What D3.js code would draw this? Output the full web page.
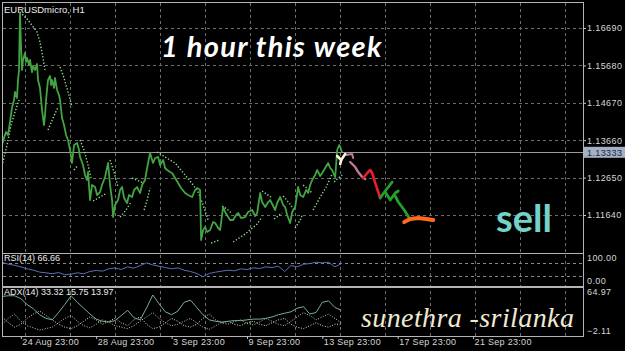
<!DOCTYPE html>
<html>
<head>
<meta charset="utf-8">
<script src="https://cdn.jsdelivr.net/npm/d3@7"></script>
<style>
  html, body { margin: 0; padding: 0; background: #000; }
  svg { display: block; }
</style>
</head>
<body>
<div id="chart"></div>
<script>
// ---- data (x = hours from first bar, y = price) ----
var priceH1 = [
  [0,1.13530],[2.5,1.13719],[5.1,1.13881],[7.6,1.13800],[10.2,1.14151],[12.7,1.14530],[15.3,1.14746],
  [16.6,1.14962],[19.1,1.14800],[20.4,1.15286],[21.7,1.15556],[22.9,1.17095],[24.2,1.16231],[25.5,1.15556],
  [26.8,1.15826],[29.3,1.16015],[30.6,1.15772],[31.9,1.15880],[34.4,1.15691],[35.7,1.15826],[38.2,1.15502],
  [39.5,1.15664],[42.1,1.15556],[44.6,1.15718],[45.9,1.15286],[48.4,1.15070],[51.0,1.14475],[53.5,1.14070],
  [54.8,1.14340],[56.1,1.14746],[58.6,1.15286],[61.2,1.15394],[62.4,1.15151],[63.7,1.15286],[66.3,1.15070],
  [67.5,1.15340],[70.1,1.15016],[72.6,1.14881],[73.9,1.14746],[76.5,1.14259],[79.0,1.14070],[81.6,1.13800],
  [84.1,1.13665],[86.7,1.13395],[89.2,1.13044],[91.8,1.13530],[95.6,1.13584],[98.1,1.13395],[99.4,1.13206],
  [103.2,1.12990],[105.8,1.12720],[108.3,1.12585],[109.6,1.12801],[112.1,1.12045],[114.7,1.12450],
  [118.5,1.12396],[121.1,1.12180],[124.9,1.12261],[127.4,1.12450],[131.3,1.12666],[135.1,1.13044],
  [137.6,1.12450],[140.2,1.12045],[141.5,1.11586],[144.0,1.11910],[147.8,1.12045],[150.4,1.12315],
  [152.9,1.12396],[155.5,1.12099],[159.3,1.11964],[161.8,1.12180],[165.7,1.12126],[168.2,1.12315],
  [172.0,1.12396],[175.9,1.12234],[178.4,1.12450],[182.2,1.12585],[184.8,1.12909],[188.6,1.13314],
  [191.2,1.13125],[192.4,1.13044],[195.0,1.13179],[198.8,1.13206],[201.4,1.12990],[205.2,1.13125],
  [207.7,1.12909],[210.3,1.12855],[214.1,1.12801],[216.6,1.12774],[220.5,1.12639],[224.3,1.12504],
  [228.1,1.12369],[233.2,1.12234],[237.0,1.12180],[242.1,1.12126],[246.0,1.12315],[248.5,1.12369],
  [252.3,1.12315],[253.6,1.10965],[256.2,1.11235],[258.7,1.11316],[261.3,1.11181],[265.1,1.11235],
  [268.9,1.11451],[271.5,1.11424],[275.3,1.11289],[277.8,1.11235],[281.6,1.11856],[284.2,1.11721],
  [288.0,1.11586],[290.6,1.11505],[294.4,1.11505],[298.2,1.11640],[300.8,1.11694],[304.6,1.11559],
  [309.7,1.11586],[313.5,1.11721],[318.6,1.11775],[322.4,1.11613],[325.0,1.11694],[328.8,1.12234],
  [331.3,1.11991],[335.2,1.11856],[339.0,1.11991],[341.5,1.12045],[345.4,1.11883],[347.9,1.11775],
  [350.5,1.11964],[354.3,1.12126],[358.1,1.11910],[360.6,1.11856],[363.2,1.11640],[367.0,1.11424],
  [369.6,1.11721],[373.4,1.11856],[377.2,1.12396],[379.8,1.12180],[383.6,1.12126],[387.4,1.12315],
  [390.0,1.12234],[392.5,1.12450],[395.1,1.12585],[398.9,1.12720],[401.4,1.12855],[405.3,1.12693],
  [407.8,1.12774],[411.6,1.12909],[415.5,1.13044],[418.0,1.12909],[420.5,1.12855],[423.1,1.12720],
  [424.4,1.12666],[426.9,1.13395],[429.5,1.13530],[430.8,1.13476],[433.0,1.13333]
];

// parabolic SAR, one array per run of dots
var sarRuns = [
  [[0,1.12963],[6.4,1.13530],[11.5,1.14070],[16.6,1.14421],[21.7,1.14746]],
  [[22.9,1.17122],[33.1,1.16906],[44.6,1.16582],[48.4,1.16312],[52.2,1.15880],[54.8,1.15556]],
  [[58.6,1.13936],[65.0,1.14259],[71.4,1.14557]],
  [[73.9,1.15637],[79.0,1.15340],[84.1,1.14962],[89.2,1.14557]],
  [[91.8,1.12855],[96.9,1.12990]],
  [[99.4,1.13665],[104.5,1.13395],[109.6,1.12990],[113.4,1.12639]],
  [[116.0,1.12018],[124.9,1.12126],[133.8,1.12234]],
  [[137.6,1.13125],[142.7,1.12801],[147.8,1.12396]],
  [[150.4,1.11586],[158.0,1.11775],[164.4,1.11991]],
  [[165.7,1.12639],[179.7,1.12504]],
  [[181.0,1.11775],[184.8,1.12045],[188.6,1.12369]],
  [[197.5,1.13341],[207.7,1.13206],[220.5,1.13044],[233.2,1.12720],[243.4,1.12450],[249.8,1.12261],[256.2,1.11910],[262.5,1.11505]],
  [[266.4,1.10884],[276.6,1.10965]],
  [[280.3,1.11883],[286.7,1.11802],[293.1,1.11667]],
  [[294.4,1.10911],[309.7,1.11127],[325.0,1.11397],[330.1,1.11559]],
  [[331.3,1.12288],[344.1,1.12099]],
  [[346.6,1.11532],[356.8,1.11694]],
  [[358.1,1.12153],[365.8,1.11964],[372.1,1.11775]],
  [[373.4,1.11289],[379.8,1.11505],[382.4,1.11640]],
  [[383.6,1.12450],[395.1,1.12234]],
  [[396.3,1.11775],[405.3,1.12126],[412.9,1.12396],[420.5,1.12747]],
  [[423.1,1.12531],[428.2,1.12639],[433.3,1.12720]]
];

// hand drawn marks on the chart
var whiteMark  = [[426.9,1.13233],[432.0,1.13125],[437.1,1.13287]];
var whiteStem  = [[432.0,1.13125],[430.8,1.13017]];
var pinkMark1  = [[437.1,1.13260],[446.0,1.13287],[447.3,1.13179]];
var pinkMark2  = [[443.5,1.13071],[449.9,1.12936],[453.7,1.12801],[458.8,1.12666],[462.6,1.12612]];
var redMark    = [[460.0,1.12639],[465.2,1.12774],[469.0,1.12855],[471.5,1.12774],[475.4,1.12504],[481.7,1.12099]];
var greenMark1 = [[481.7,1.12099],[488.1,1.12288],[497.0,1.12531]];
var greenMark2 = [[488.1,1.12261],[494.5,1.12045],[500.8,1.12234],[504.7,1.12288]];
var greenMark3 = [[500.8,1.12153],[504.7,1.11991],[512.3,1.11775],[518.7,1.11559]];
var orangeMark = [[512.3,1.11451],[520.0,1.11532],[530.2,1.11559],[540.4,1.11532],[549.3,1.11505]];

var lastPrice = 1.13333;
var priceTicks = [1.16690, 1.15680, 1.14670, 1.13660, 1.12650, 1.11640];
var dateTicks  = [24, 120, 216, 312, 408, 504, 600];
var dateLabels = ["24 Aug 23:00","28 Aug 23:00","3 Sep 23:00","9 Sep 23:00","13 Sep 23:00","17 Sep 23:00","21 Sep 23:00"];

// indicators sampled every 8 hours
var rsiStep = 8;
var rsi14 = [72,66,63,58,52,48,42,40,37,41,34,36,40,37,44,47,45,52,55,50,58,54,62,70,64,60,56,52,
             55,48,44,38,28,38,42,45,48,46,52,50,55,53,58,56,60,44,62,58,66,68,72,70,72,58,67];
var adxMain = [52,53,53,49,41,35,27,22,20,30,41,53,44,36,28,21,18,17,19,26,33,23,20,36,54,42,31,27,
               32,44,47,37,27,20,18,17,18,19,19,20,21,21,22,24,27,29,31,36,38,28,30,44,46,37,33];
var plusDI  = [14,22,28,18,12,9,6,8,10,16,22,26,18,12,9,14,20,17,12,10,8,12,18,24,30,22,16,12,
               14,18,22,16,10,7,12,16,14,18,20,15,13,17,22,18,14,12,18,24,30,26,20,24,28,22,16];
var minusDI = [24,16,10,14,22,28,32,26,20,14,10,8,12,18,24,20,14,18,22,16,12,20,24,14,8,10,16,22,
               18,12,10,14,22,28,20,16,18,14,12,16,18,14,12,16,20,22,14,10,8,12,16,12,10,14,14];

// ---- drawing ----
var W = 625, H = 351;
var svg = d3.select("#chart").append("svg")
    .attr("width", W).attr("height", H)
    .style("font-family", "'Liberation Sans', Arial, sans-serif");

svg.append("rect").attr("width", W).attr("height", H).attr("fill", "#000");

var x = d3.scaleLinear().domain([0, 740]).range([2, 583]);
var y = d3.scaleLinear().domain([1.10614, 1.17392]).range([253, 2]);
var yRsi = d3.scaleLinear().domain([0, 100]).range([286, 253]);
var yAdx = d3.scaleLinear().domain([-2.11, 64.97]).range([336, 287]);

var gridCol = "#6c6c6c";

// vertical grid (every 45px, like the terminal)
svg.append("g").selectAll("line")
  .data(d3.range(25.5, 583, 45))
  .enter().append("line")
    .attr("x1", function(d) { return d; }).attr("x2", function(d) { return d; })
    .attr("y1", 3).attr("y2", 336)
    .attr("stroke", gridCol).attr("stroke-dasharray", "3,3");

// horizontal grid main
svg.append("g").selectAll("line")
  .data(priceTicks)
  .enter().append("line")
    .attr("x1", 3).attr("x2", 583)
    .attr("y1", function(d) { return Math.round(y(d)) + 0.5; })
    .attr("y2", function(d) { return Math.round(y(d)) + 0.5; })
    .attr("stroke", gridCol).attr("stroke-dasharray", "3,3");

// rsi levels
svg.append("g").selectAll("line")
  .data([70, 30])
  .enter().append("line")
    .attr("x1", 3).attr("x2", 583)
    .attr("y1", function(d) { return Math.round(yRsi(d)) + 0.5; })
    .attr("y2", function(d) { return Math.round(yRsi(d)) + 0.5; })
    .attr("stroke", "#8a8a8a").attr("stroke-dasharray", "3,3");

// clip for main panel
svg.append("clipPath").attr("id", "clipMain")
  .append("rect").attr("x", 2).attr("y", 2).attr("width", 581).attr("height", 251);

// last price line
svg.append("line")
  .attr("x1", 2).attr("x2", 583)
  .attr("y1", Math.round(y(lastPrice)) + 0.5).attr("y2", Math.round(y(lastPrice)) + 0.5)
  .attr("stroke", "#9a9a9a");

var main = svg.append("g").attr("clip-path", "url(#clipMain)");
var line = d3.line().x(function(d) { return x(d[0]); }).y(function(d) { return y(d[1]); });

// SAR dots
main.append("g").selectAll("path")
  .data(sarRuns)
  .enter().append("path")
    .attr("d", line)
    .attr("fill", "none")
    .attr("stroke", "#8ee38e")
    .attr("stroke-width", 1.4)
    .attr("stroke-dasharray", "1.3,1.9");

// price
main.append("path")
  .datum(priceH1)
  .attr("d", line)
  .attr("fill", "none")
  .attr("stroke", "#43a443")
  .attr("stroke-width", 1.8)
  .attr("stroke-linejoin", "round");

// hand drawn marks
var marks = [
  {pts: pinkMark1, col: "#c27c90", w: 2},
  {pts: pinkMark2, col: "#c27c90", w: 2.4},
  {pts: whiteMark, col: "#fff6d8", w: 2.6},
  {pts: whiteStem, col: "#fff6d8", w: 2.6},
  {pts: redMark, col: "#e8202c", w: 2.6},
  {pts: greenMark1, col: "#23a12b", w: 2.8},
  {pts: greenMark2, col: "#23a12b", w: 2.8},
  {pts: greenMark3, col: "#23a12b", w: 2.8},
  {pts: orangeMark, col: "#ff6a1c", w: 4}
];
main.append("g").selectAll("path")
  .data(marks)
  .enter().append("path")
    .attr("d", function(d) { return line(d.pts); })
    .attr("fill", "none")
    .attr("stroke", function(d) { return d.col; })
    .attr("stroke-width", function(d) { return d.w; })
    .attr("stroke-linecap", "round")
    .attr("stroke-linejoin", "round");

// RSI
var rsiLine = d3.line()
  .x(function(d, i) { return x(i * rsiStep); })
  .y(function(d) { return yRsi(d); });
svg.append("path").datum(rsi14).attr("d", rsiLine)
  .attr("fill", "none").attr("stroke", "#5b6fb4").attr("stroke-width", 1);

// ADX
var adxLine = d3.line()
  .x(function(d, i) { return x(i * rsiStep); })
  .y(function(d) { return yAdx(d); });
svg.append("path").datum(plusDI).attr("d", adxLine)
  .attr("fill", "none").attr("stroke", "#b9d3a8").attr("stroke-width", 1).attr("stroke-dasharray", "1,1.6");
svg.append("path").datum(minusDI).attr("d", adxLine)
  .attr("fill", "none").attr("stroke", "#e6dfc8").attr("stroke-width", 1).attr("stroke-dasharray", "1,1.6");
svg.append("path").datum(adxMain).attr("d", adxLine)
  .attr("fill", "none").attr("stroke", "#78ae98").attr("stroke-width", 1);

// panel frames
var frameCol = "#b4b4b4";
[[2, 2, 581, 251], [2, 253, 581, 33], [2, 287, 581, 49]].forEach(function(r) {
  svg.append("rect")
    .attr("x", r[0] + 0.5).attr("y", r[1] + 0.5)
    .attr("width", r[2]).attr("height", r[3])
    .attr("fill", "none").attr("stroke", frameCol);
});

// right price axis
var yAxis = svg.append("g")
  .attr("transform", "translate(583,0)")
  .call(d3.axisRight(y).tickValues(priceTicks).tickSize(3).tickPadding(1)
        .tickFormat(d3.format(".5f")));
yAxis.select(".domain").remove();
yAxis.selectAll("line").attr("stroke", "#c8c8c8");
yAxis.selectAll("text").attr("fill", "#d6d6d6").style("font-size", "9px").style("letter-spacing", "0.4px");

// last price tag
svg.append("rect")
  .attr("x", 584).attr("y", y(lastPrice) - 5.5).attr("width", 41).attr("height", 11)
  .attr("fill", "#a3b0c6");
svg.append("text")
  .attr("x", 587).attr("y", y(lastPrice) + 3.5)
  .attr("fill", "#1d2636").style("font-size", "9px").style("letter-spacing", "0.4px")
  .text(d3.format(".5f")(lastPrice));

// sub window scale labels
var subLabels = [
  {t: "100.00", yy: yRsi(100) + 8},
  {t: "0.00", yy: yRsi(0) - 2},
  {t: d3.format(".2f")(yAdx.domain()[1]), yy: yAdx(yAdx.domain()[1]) + 8},
  {t: d3.format(".2f")(yAdx.domain()[0]), yy: yAdx(yAdx.domain()[0]) - 2}
];
svg.append("g").selectAll("text")
  .data(subLabels)
  .enter().append("text")
    .attr("x", 587).attr("y", function(d) { return d.yy; })
    .attr("fill", "#d6d6d6").style("font-size", "9px").style("letter-spacing", "0.4px")
    .text(function(d) { return d.t; });

// bottom time axis
var xAxis = svg.append("g")
  .attr("transform", "translate(0,336)")
  .call(d3.axisBottom(x).tickValues(dateTicks).tickSize(3).tickPadding(0)
        .tickFormat(function(d, i) { return dateLabels[i]; }));
xAxis.select(".domain").remove();
xAxis.selectAll("line").attr("stroke", "#c8c8c8");
xAxis.selectAll("text")
  .attr("text-anchor", "start").attr("dx", 1)
  .attr("fill", "#d6d6d6").style("font-size", "9px").style("letter-spacing", "0.3px");

// window captions
svg.append("text").attr("x", 4).attr("y", 13)
  .attr("fill", "#ececec").style("font-size", "9.5px").text("EURUSDmicro, H1");
svg.append("text").attr("x", 4).attr("y", 261)
  .attr("fill", "#ececec").style("font-size", "9px")
  .text("RSI(14) " + d3.format(".2f")(66.66));
svg.append("text").attr("x", 4).attr("y", 295)
  .attr("fill", "#ececec").style("font-size", "9px")
  .text("ADX(14) 33.32 15.75 13.97");

// annotations
svg.append("text").attr("x", 161).attr("y", 57)
  .attr("fill", "#ffffff")
  .style("font-family", "Lato, 'Open Sans', sans-serif")
  .style("font-style", "italic").style("font-weight", "bold")
  .style("font-size", "29px").style("letter-spacing", "1.3px")
  .text("1 hour this week");

svg.append("text").attr("x", 496).attr("y", 232)
  .attr("fill", "#74d2c7")
  .style("font-family", "Lato, 'Open Sans', sans-serif")
  .style("font-weight", "bold")
  .style("font-size", "38px")
  .text("sell");

svg.append("text").attr("x", 361).attr("y", 327)
  .attr("fill", "#efe9d2")
  .style("font-family", "'Liberation Serif', 'DejaVu Serif', serif")
  .style("font-style", "italic")
  .style("font-size", "28px").style("letter-spacing", "0.4px")
  .text("sunethra -srilanka");
</script>
</body>
</html>
